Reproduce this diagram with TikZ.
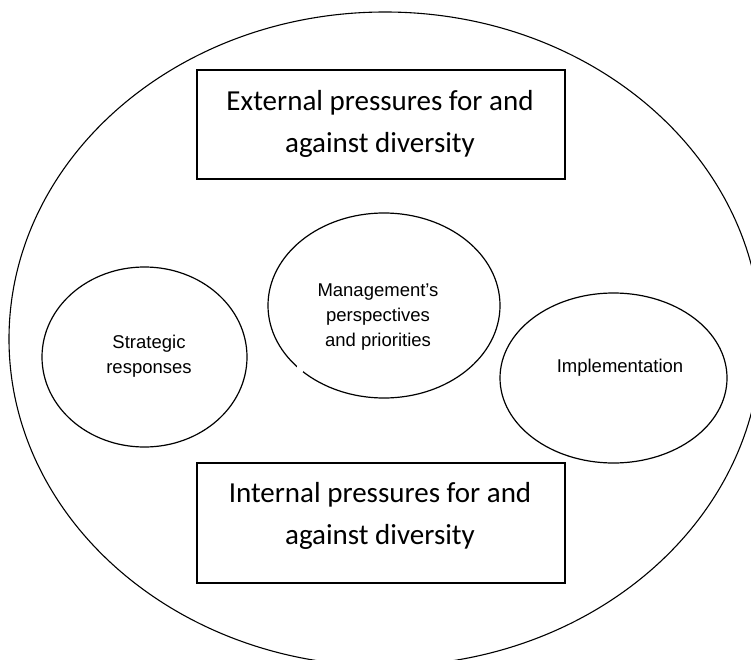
\documentclass[tikz,border=0pt]{standalone}
\usepackage{fontspec}
\setmainfont{Carlito}
\newfontfamily\arialfont{Liberation Sans}
\usetikzlibrary{shapes.geometric}
\begin{document}
\begin{tikzpicture}[x=1pt,y=-1pt,
  outline/.style={draw=black, line width=1.2pt},
  pbox/.style={outline, rectangle, inner sep=0pt},
  boxtext/.style={align=center, font=\fontsize{29}{42}\selectfont, inner sep=0pt},
  oval/.style={outline, ellipse, inner sep=0pt},
  ovaltext/.style={align=center, font=\arialfont\fontsize{18.5}{25}\selectfont, inner sep=0pt}]
\useasboundingbox (0,0) rectangle (751,660);
\begin{scope}
\clip (0,0) rectangle (751,660);
\node[oval, line width=1.1pt, minimum width=752pt, minimum height=654pt] (outer) at (385,339) {};
\end{scope}
% boxes
\node[pbox, minimum width=368pt, minimum height=109pt] (ext) at (381,124.5) {};
\node[boxtext] (exttext) at (380,124) {External pressures for and\\against diversity};
\node[pbox, minimum width=368pt, minimum height=120pt] (int) at (381,523) {};
\node[boxtext] (inttext) at (380,516) {Internal pressures for and\\against diversity};
% ovals
\node[oval, minimum width=205pt, minimum height=180pt] (strat) at (144.5,357) {};
\node[ovaltext] (strattext) at (149,356) {Strategic\\responses};
\node[oval, minimum width=232pt, minimum height=185pt] (mgmt) at (384,305.5) {};
\node[fill=white, minimum size=6pt, inner sep=0pt] (gap) at (300,369) {};
\node[ovaltext] (mgmttext) at (378,317) {Management’s\\perspectives\\and priorities};
\node[oval, minimum width=227pt, minimum height=170pt] (impl) at (613.5,378) {};
\node[ovaltext] (impltext) at (620,368) {Implementation};
\end{tikzpicture}
\end{document}
